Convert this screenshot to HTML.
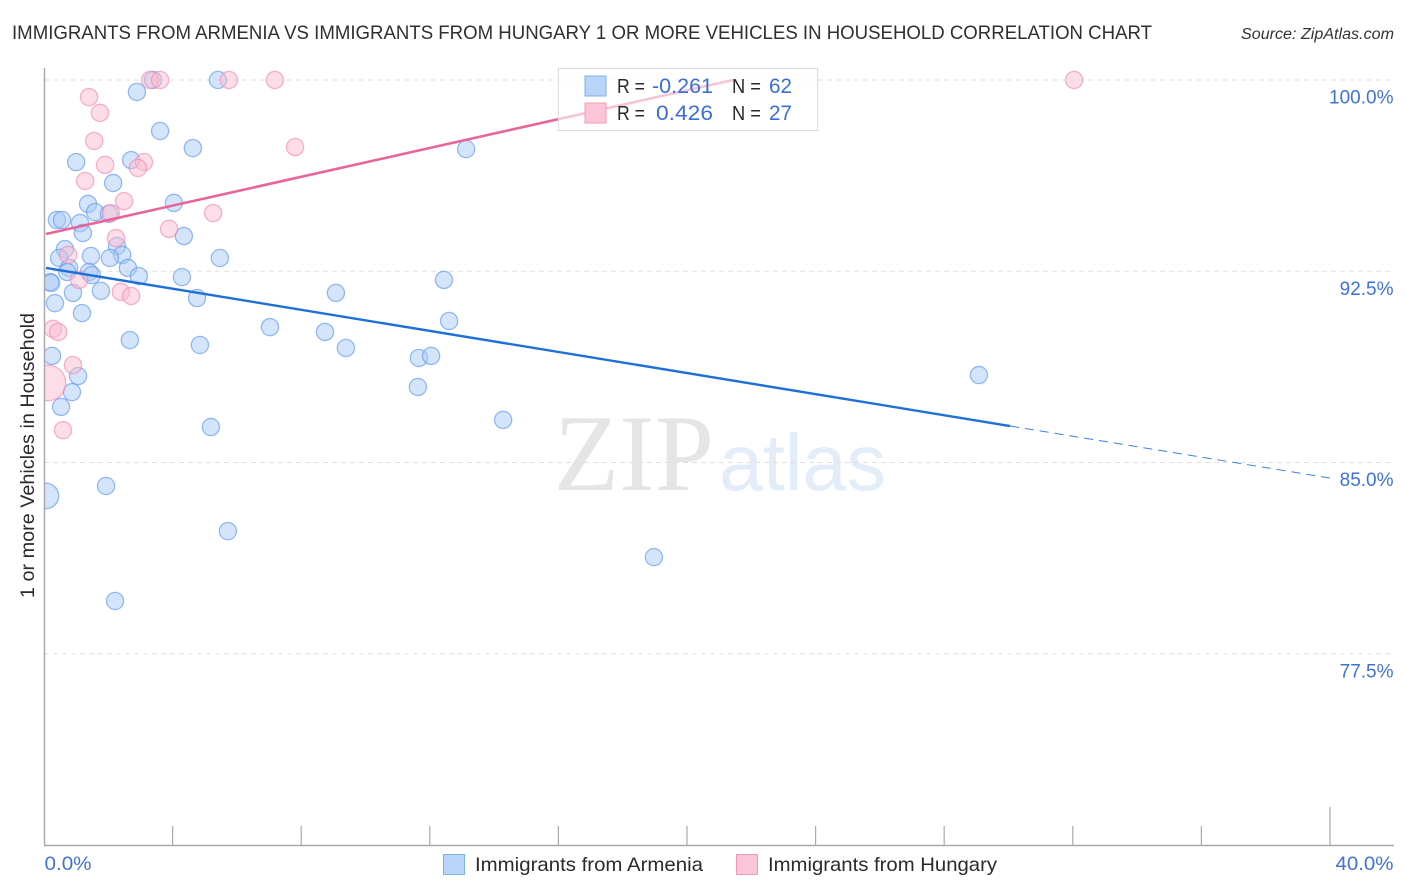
<!DOCTYPE html>
<html lang="en">
<head>
<meta charset="utf-8">
<title>Immigrants from Armenia vs Immigrants from Hungary chart</title>
<style>
html,body{margin:0;padding:0;background:#fff;width:1406px;height:892px;overflow:hidden}
svg{display:block}
text{font-family:"Liberation Sans",sans-serif}
</style>
</head>
<body>
<svg id="chart" width="1406" height="892" viewBox="0 0 1406 892" xmlns="http://www.w3.org/2000/svg">
  <defs><clipPath id="plot-clip" clipPathUnits="userSpaceOnUse"><rect x="45" y="60" width="1349" height="786"/></clipPath></defs>
  <text x="12" y="39" font-size="19.5" fill="#2f2f33" textLength="1140" lengthAdjust="spacingAndGlyphs">IMMIGRANTS FROM ARMENIA VS IMMIGRANTS FROM HUNGARY 1 OR MORE VEHICLES IN HOUSEHOLD CORRELATION CHART</text>
  <text x="1241" y="39" font-size="15.5" font-style="italic" fill="#333" textLength="153" lengthAdjust="spacingAndGlyphs">Source: ZipAtlas.com</text>
  <g>
    <text x="554" y="490" font-size="109" fill="#e5e5e5" style="font-family:'Liberation Serif',serif" textLength="160" lengthAdjust="spacingAndGlyphs">ZIP</text>
    <text x="719" y="490" font-size="80" fill="#e3ecf9" textLength="167" lengthAdjust="spacingAndGlyphs">atlas</text>
  </g>
  <g id="grid"></g>
  <g id="points" clip-path="url(#plot-clip)"></g>
  <rect x="0" y="60" width="44" height="790" fill="#fff"/>
  <g id="axes"></g>
  <g id="lines"></g>
  <text transform="translate(34,598) rotate(-90)" font-size="19" fill="#2a2a2e" textLength="285" lengthAdjust="spacingAndGlyphs">1 or more Vehicles in Household</text>
  <g>
    <rect x="558.5" y="68.5" width="259" height="62" fill="#fff" fill-opacity="0.62" stroke="#dcdcdc" stroke-width="1"/>
    <rect x="585" y="76" width="21" height="20" fill="#b8d4f8" stroke="#7fb0ec" stroke-width="1"/>
    <rect x="585" y="103" width="21" height="20" fill="#fcc5d7" stroke="#f09ab8" stroke-width="1"/>
    <text x="617" y="93" font-size="20" fill="#2a2a2e" textLength="28" lengthAdjust="spacingAndGlyphs">R =</text>
    <text x="652" y="93" font-size="21" fill="#3a6fd4" textLength="61" lengthAdjust="spacingAndGlyphs">-0.261</text>
    <text x="732" y="93" font-size="20" fill="#2a2a2e" textLength="29" lengthAdjust="spacingAndGlyphs">N =</text>
    <text x="769" y="93" font-size="21" fill="#3a6fd4" textLength="23" lengthAdjust="spacingAndGlyphs">62</text>
    <text x="617" y="120" font-size="20" fill="#2a2a2e" textLength="28" lengthAdjust="spacingAndGlyphs">R =</text>
    <text x="656" y="120" font-size="21" fill="#3a6fd4" textLength="57" lengthAdjust="spacingAndGlyphs">0.426</text>
    <text x="732" y="120" font-size="20" fill="#2a2a2e" textLength="29" lengthAdjust="spacingAndGlyphs">N =</text>
    <text x="769" y="120" font-size="21" fill="#3a6fd4" textLength="23" lengthAdjust="spacingAndGlyphs">27</text>
  </g>
  <g>
    <rect x="443.5" y="854.5" width="21" height="20" fill="#b8d4f8" stroke="#7fb0ec" stroke-width="1"/>
    <text x="475" y="871" font-size="19.5" fill="#2a2a2e" textLength="228" lengthAdjust="spacingAndGlyphs">Immigrants from Armenia</text>
    <rect x="736.5" y="854.5" width="21" height="20" fill="#fcc5d7" stroke="#f09ab8" stroke-width="1"/>
    <text x="768" y="871" font-size="19.5" fill="#2a2a2e" textLength="229" lengthAdjust="spacingAndGlyphs">Immigrants from Hungary</text>
  </g>
</svg>
<script>
const yTickValues = [100, 92.5, 85, 77.5];
const yTickLabels = ["100.0%", "92.5%", "85.0%", "77.5%"];
const xTickValues = [4, 8, 12, 16, 20, 24, 28, 32, 36, 40];
const xEndLabels = ["0.0%", "40.0%"];
const armeniaX = [2.89,3.39,5.41,3.61,4.63,13.13,1.00,2.71,2.15,1.37,4.04,1.59,2.02,0.40,0.56,1.12,1.21,4.35,0.65,2.27,2.43,1.46,2.05,5.47,0.47,0.78,2.61,0.72,1.40,1.49,2.95,4.29,12.44,0.19,0.22,1.77,0.90,4.76,9.08,0.34,1.18,12.60,7.03,8.74,2.67,4.85,9.39,0.25,11.66,12.04,1.06,29.08,11.63,0.87,0.53,14.28,5.19,1.93,0.06,5.72,18.97,2.21];
const armeniaY = [99.53,100,100,98.0,97.33,97.29,96.78,96.86,95.96,95.14,95.18,94.82,94.75,94.51,94.51,94.39,94.0,93.88,93.37,93.49,93.14,93.10,93.02,93.02,93.02,92.63,92.63,92.47,92.47,92.35,92.31,92.27,92.16,92.08,92.04,91.73,91.65,91.45,91.65,91.25,90.86,90.55,90.31,90.12,89.80,89.61,89.49,89.18,89.10,89.18,88.39,88.43,87.96,87.76,87.18,86.67,86.39,84.08,83.69,82.31,81.29,79.57];
const armeniaSize = [1,1,1,1,1,1,1,1,1,1,1,1,1,1,1,1,1,1,1,1,1,1,1,1,1,1,1,1,1,1,1,1,1,1,1,1,1,1,1,1,1,1,1,1,1,1,1,1,1,1,1,1,1,1,1,1,1,1,2.2,1,1,1];
const hungaryX = [3.30,3.61,5.75,7.18,32.04,1.40,1.74,1.56,7.81,1.90,3.11,2.92,1.28,2.49,5.26,2.08,2.24,3.89,0.75,1.09,2.39,2.71,0.28,0.44,0.90,0.12,0.59];
const hungaryY = [100,100,100,100,100,99.33,98.71,97.61,97.37,96.67,96.78,96.55,96.04,95.25,94.78,94.78,93.80,94.16,93.14,92.16,91.69,91.53,90.24,90.12,88.82,88.12,86.27];
const hungarySize = [1,1,1,1,1,1,1,1,1,1,1,1,1,1,1,1,1,1,1,1,1,1,1,1,1,4.3,1];
const armeniaTrendX = [0.06, 30.05];
const armeniaTrendY = [92.63, 86.43];
const armeniaForecastX = [30.05, 40];
const armeniaForecastY = [86.43, 84.39];
const hungaryTrendX = [0.06, 21.43];
const hungaryTrendY = [93.96, 100];

const SVGNS = 'http://www.w3.org/2000/svg';
const xScale = v => 44 + v * 32.15;
const yScale = v => 80 + (100 - v) * 25.5;
function make(tag, attrs, parent) {
  const el = document.createElementNS(SVGNS, tag);
  for (const k in attrs) el.setAttribute(k, attrs[k]);
  parent.appendChild(el);
  return el;
}
const grid = document.getElementById('grid');
const axes = document.getElementById('axes');
const points = document.getElementById('points');
const lines = document.getElementById('lines');

yTickValues.forEach((v, i) => {
  const g = make('line', {x1: 44, x2: 1394, y1: yScale(v), y2: yScale(v), stroke: '#e0e0e0', 'stroke-width': 1, 'stroke-dasharray': '5 4'}, grid);
  
  
  const t = make('text', {x: 1393.5, y: yScale(v) + 23.5, 'font-size': 19, fill: '#3f72d6', 'text-anchor': 'end'}, axes);
  
  
  t.textContent = yTickLabels[i];
});

const yAxis = make('line', {x1: 44.5, x2: 44.5, y1: 68, y2: yScale(70), stroke: '#aaa', 'stroke-width': 1.5}, axes);


const xAxis = make('line', {x1: 44, x2: 1394, y1: yScale(70) + 0.5, y2: yScale(70) + 0.5, stroke: '#aaa', 'stroke-width': 1.5}, axes);



xTickValues.forEach((v, i) => {
  const last = i === xTickValues.length - 1;
  const tick = make('line', {x1: xScale(v), x2: xScale(v), y1: last ? 807 : 826, y2: 846, stroke: '#aaa', 'stroke-width': 1.2}, axes);
  
  
});

const xLabel0 = make('text', {x: 44.5, y: 870, 'font-size': 19.5, fill: '#3f72d6', textLength: 47, lengthAdjust: 'spacingAndGlyphs'}, axes);


xLabel0.textContent = xEndLabels[0];
const xLabel1 = make('text', {x: 1335.5, y: 870, 'font-size': 19.5, fill: '#3f72d6', textLength: 58, lengthAdjust: 'spacingAndGlyphs'}, axes);


xLabel1.textContent = xEndLabels[1];

function drawSeries(xs, ys, sizes, fill, stroke, name) {
  xs.forEach((x, i) => {
    const c = make('circle', {cx: xScale(x), cy: yScale(ys[i]), r: 8.6 * Math.sqrt(sizes[i]), fill: fill, 'fill-opacity': 0.5, stroke: stroke, 'stroke-opacity': 0.62, 'stroke-width': 1.3}, points);
    
    
  });
}
drawSeries(armeniaX, armeniaY, armeniaSize, '#a9caf5', '#5b96e6', 'armenia-point');
drawSeries(hungaryX, hungaryY, hungarySize, '#fbbcd0', '#ef88ab', 'hungary-point');

const armeniaLine = make('line', {x1: xScale(armeniaTrendX[0]), y1: yScale(armeniaTrendY[0]), x2: xScale(armeniaTrendX[1]), y2: yScale(armeniaTrendY[1]), stroke: '#1f6fd8', 'stroke-width': 2.4}, lines);


const armeniaDash = make('line', {x1: xScale(armeniaForecastX[0]), y1: yScale(armeniaForecastY[0]), x2: xScale(armeniaForecastX[1]), y2: yScale(armeniaForecastY[1]), stroke: '#3f80dc', 'stroke-width': 1, 'stroke-dasharray': '9 6'}, lines);


const hungaryLine = make('line', {x1: xScale(hungaryTrendX[0]), y1: yScale(hungaryTrendY[0]), x2: xScale(hungaryTrendX[1]), y2: yScale(hungaryTrendY[1]), stroke: '#e8659a', 'stroke-width': 2.6}, lines);


</script>
</body>
</html>
